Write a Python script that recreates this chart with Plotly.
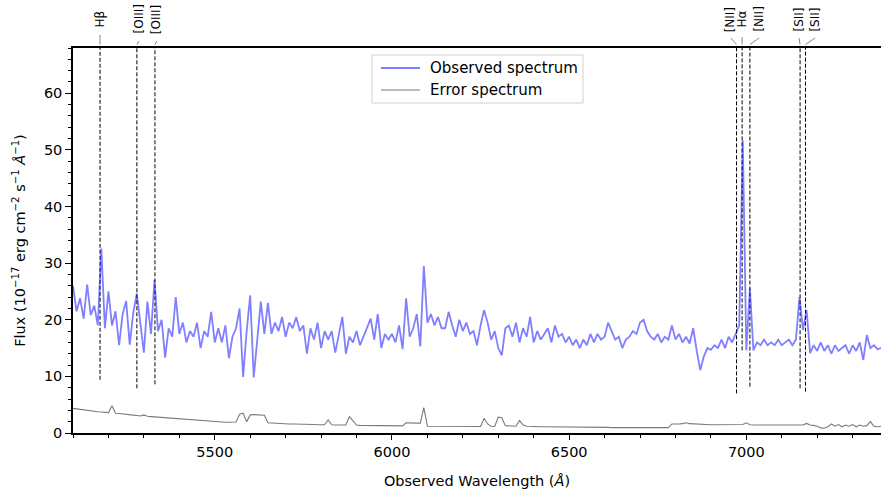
import numpy as np
import plotly.graph_objects as go

# ---------------- data ----------------
wl_start = 5100
wl_step = 10

flux = [
    26.0, 21.5, 23.8, 20.2, 26.2, 20.8, 22.5, 19.0, 32.6, 18.5,
    25.0, 19.0, 21.5, 15.5, 21.0, 23.3, 15.6, 21.2, 24.6, 19.5,
    14.2, 23.2, 17.5, 27.0, 18.0, 20.0, 13.3, 18.5, 17.0, 24.0,
    17.5, 19.5, 16.0, 18.0, 17.0, 19.5, 15.0, 18.0, 17.0, 21.4,
    16.0, 18.5, 16.0, 19.0, 13.2, 17.0, 18.5, 22.0, 9.9, 18.0,
    24.3, 9.8, 17.0, 23.2, 17.5, 23.0, 17.5, 19.5, 18.0, 20.5,
    17.0, 19.5, 18.5, 20.5, 18.0, 19.0, 14.0, 18.5, 16.5, 19.5,
    15.0, 18.0, 16.5, 18.0, 14.2, 17.5, 20.5, 14.0, 17.0, 16.0,
    18.0, 15.5, 17.0, 18.5, 20.2, 16.5, 21.0, 15.0, 17.5, 16.5,
    17.5, 16.0, 19.0, 14.8, 23.8, 17.0, 18.5, 21.0, 15.3, 29.5,
    19.5, 21.0, 19.0, 20.5, 18.5, 18.5, 21.4, 19.0, 17.0, 20.0,
    18.0, 19.5, 17.5, 18.0, 15.5, 19.0, 21.7, 19.5, 16.5, 18.0,
    15.0, 13.7, 18.5, 19.0, 17.0, 19.5, 16.0, 18.5, 17.0, 20.5,
    16.0, 18.0, 16.5, 17.5, 18.5, 16.0, 19.0, 17.0, 17.5, 16.0,
    17.0, 15.5, 16.5, 15.0, 16.5, 15.5, 17.5, 16.0, 17.5, 16.5,
    17.0, 19.5, 18.0, 16.5, 17.0, 15.0, 16.5, 17.0, 18.0, 17.5,
    19.5, 20.0, 18.0, 17.0, 16.5, 17.5, 16.0, 17.0, 16.5, 19.0,
    16.5, 17.5, 16.0, 17.0, 15.8, 18.5, 14.5, 11.1, 13.5, 15.0,
    14.7, 15.5, 15.0, 16.5, 15.0, 17.0, 16.0, 17.5, 19.0, 51.7,
    14.6, 25.5, 14.6, 16.0, 15.5, 16.5, 15.5, 16.0, 15.5, 16.5,
    15.5, 16.0, 16.5, 15.5, 16.5, 24.0, 18.2, 21.7, 14.1, 15.5,
    14.5, 16.0, 14.5, 15.5, 14.0, 15.5, 14.5, 15.0, 15.5, 14.0,
    15.5, 14.5, 16.0, 12.9, 17.3, 15.0, 15.5, 14.8, 15.0,
]

error = [
    4.35, 4.25, 4.15, 4.1, 4.0, 3.9, 3.85, 3.75, 3.7, 3.65,
    3.6, 4.8, 3.5, 3.45, 3.35, 3.3, 3.25, 3.15, 3.1, 3.0,
    3.2, 2.95, 2.9, 2.85, 2.75, 2.7, 2.65, 2.6, 2.55, 2.5,
    2.45, 2.4, 2.35, 2.3, 2.25, 2.2, 2.15, 2.1, 2.05, 2.0,
    2.0, 1.95, 1.95, 1.9, 1.9, 1.9, 1.95, 3.3, 3.5, 2.0,
    3.2, 3.25, 3.2, 3.2, 3.15, 1.8, 1.75, 1.7, 1.7, 1.65,
    1.65, 1.6, 1.6, 1.6, 1.55, 1.55, 1.5, 1.5, 1.5, 1.45,
    1.45, 1.45, 2.3, 1.45, 1.4, 1.4, 1.4, 1.4, 2.9, 2.2,
    1.4, 1.35, 1.35, 1.35, 1.35, 1.3, 1.3, 1.3, 1.3, 1.3,
    1.25, 1.25, 1.25, 1.25, 1.8, 1.75, 1.75, 1.75, 1.75, 4.5,
    1.2, 1.2, 1.2, 1.2, 1.2, 1.2, 1.2, 1.15, 1.15, 1.15,
    1.15, 1.15, 1.15, 1.15, 1.15, 1.15, 2.6, 1.6, 1.2, 1.15,
    2.8, 2.7, 1.3, 1.25, 1.2, 1.2, 2.2, 1.4, 1.2, 1.15,
    1.1, 1.1, 1.1, 1.1, 1.1, 1.05, 1.05, 1.05, 1.05, 1.05,
    1.05, 1.0, 1.0, 1.0, 1.0, 1.0, 1.0, 1.0, 1.0, 1.0,
    1.0, 1.0, 0.95, 0.95, 0.95, 0.95, 0.95, 0.95, 0.95, 0.95,
    0.95, 0.95, 0.95, 0.95, 0.95, 0.95, 0.95, 0.95, 0.95, 1.6,
    1.55, 1.6, 1.65, 1.8, 1.65, 1.6, 1.55, 1.5, 1.5, 1.5,
    1.45, 1.45, 1.45, 1.45, 1.4, 1.45, 1.4, 1.4, 1.45, 1.5,
    1.8, 1.45, 1.4, 1.4, 1.4, 1.4, 1.4, 1.4, 1.4, 1.4,
    1.4, 1.4, 1.4, 1.4, 1.4, 1.45, 1.4, 1.7, 1.4, 1.35,
    1.2, 0.9, 0.85, 1.1, 1.6, 1.2, 1.5, 1.1, 1.4, 1.2,
    1.5, 1.1, 1.4, 1.2, 1.3, 2.0, 1.2, 1.1, 1.2,
]

wavelength = wl_start + wl_step * np.arange(len(flux))

# emission lines (observed wavelengths, z ~ 0.0648)
line_names = ["H\u03b2", "[OIII]", "[OIII]", "[NII]", "H\u03b1", "[NII]", "[SII]", "[SII]"]
line_rest = [4861.33, 4958.91, 5006.84, 6548.05, 6562.82, 6583.45, 6716.44, 6730.82]
redshift = 0.0648
line_bottom = [9.4, 7.9, 8.6, 7.0, 14.6, 8.2, 7.9, 7.3]   # lower end of dashed markers
label_shift = [0, 6, 5, -16, 0, 26, -3, 27]                # label offsets (Angstrom)
label_tail = [35, 41, 41, 38, 37, 38, 38, 38]              # connector start (px from top)

series_names = ["Observed spectrum", "Error spectrum"]
series_colors = ["rgba(0,0,255,0.5)", "#7a7a7a"]
series_widths = [1.8, 1.1]

x_range = [5100, 7380]
y_range = [0, 68]

# ---------------- figure ----------------
W, H = 881, 496
ml, mr, mt, mb = 73, 0, 48, 63
plot_w = W - ml - mr
plot_h = H - mt - mb


def px_x(px):
    return (px - ml) / plot_w


def px_y(py):
    return (H - mb - py) / plot_h


fig = go.Figure()

line_obs = [r * (1 + redshift) for r in line_rest]
for lam, yb in zip(line_obs, line_bottom):
    fig.add_trace(go.Scatter(
        x=[lam, lam], y=[yb, y_range[1]], mode="lines",
        line=dict(color="black", width=1, dash="4px,2px"),
        showlegend=False, hoverinfo="skip"))

fig.add_trace(go.Scatter(
    x=wavelength, y=flux, mode="lines", name=series_names[0],
    line=dict(color=series_colors[0], width=series_widths[0]), showlegend=False))
fig.add_trace(go.Scatter(
    x=wavelength, y=error, mode="lines", name=series_names[1],
    line=dict(color=series_colors[1], width=series_widths[1]), showlegend=False))

for name, lam, dx, tail in zip(line_names, line_obs, label_shift, label_tail):
    fig.add_annotation(
        x=lam + dx, y=px_y(19.5), xref="x", yref="paper",
        text=name, showarrow=False, textangle=-90,
        xanchor="center", yanchor="middle",
        font=dict(family="DejaVu Sans", size=12, color="black"))
    fig.add_shape(type="line", xref="x", yref="paper",
                  x0=lam + dx, y0=px_y(tail), x1=lam, y1=px_y(44.5),
                  line=dict(color="#888888", width=1))

# manual legend (matplotlib style)
fig.add_shape(type="rect", xref="paper", yref="paper",
              x0=px_x(372), x1=px_x(583), y0=px_y(103), y1=px_y(55),
              line=dict(color="#d0d0d0", width=1), fillcolor="rgba(255,255,255,0.8)")
for i, (nm, col, wd) in enumerate(zip(series_names, series_colors, series_widths)):
    yy = px_y(68 + 22 * i)
    fig.add_shape(type="line", xref="paper", yref="paper",
                  x0=px_x(381), x1=px_x(420), y0=yy, y1=yy,
                  line=dict(color=col, width=wd))
    fig.add_annotation(x=px_x(428), y=yy, xref="paper", yref="paper",
                       text=nm, showarrow=False, xanchor="left", yanchor="middle",
                       font=dict(family="DejaVu Sans", size=15, color="black"))

axis_font = dict(family="DejaVu Sans", size=14.5, color="black")

fig.update_layout(
    width=W, height=H,
    margin=dict(l=ml, r=mr, t=mt, b=mb),
    paper_bgcolor="white", plot_bgcolor="white",
    font=dict(family="DejaVu Sans", size=14.5, color="black"),
    showlegend=False,
    xaxis=dict(range=x_range, showline=True, linecolor="black", linewidth=1.5,
               mirror=True, ticks="outside", ticklen=5, tickwidth=1.2, tickcolor="black",
               dtick=500, tick0=5000, showgrid=False, zeroline=False,
               minor=dict(dtick=100, ticks="outside", ticklen=3, tickcolor="black", tickwidth=1),
               tickfont=axis_font,
               title=dict(text="Observed Wavelength (<i>\u00c5</i>)", font=axis_font, standoff=17)),
    yaxis=dict(range=y_range, showline=True, linecolor="black", linewidth=1.5,
               ticks="outside", ticklen=6, tickwidth=1.2, tickcolor="black",
               dtick=10, tick0=0, showgrid=False, zeroline=False,
               minor=dict(dtick=2, ticks="outside", ticklen=3.5, tickcolor="black", tickwidth=1),
               tickfont=axis_font,
               title=dict(text="Flux (10<sup>\u221217</sup> erg cm<sup>\u22122</sup> s<sup>\u22121</sup> <i>\u00c5</i><sup>\u22121</sup>)",
                          font=axis_font, standoff=15)),
)

fig.write_html("out.html",
               config={"displayModeBar": False},
               post_script="document.body.style.margin='0px';document.body.style.overflow='hidden';")
